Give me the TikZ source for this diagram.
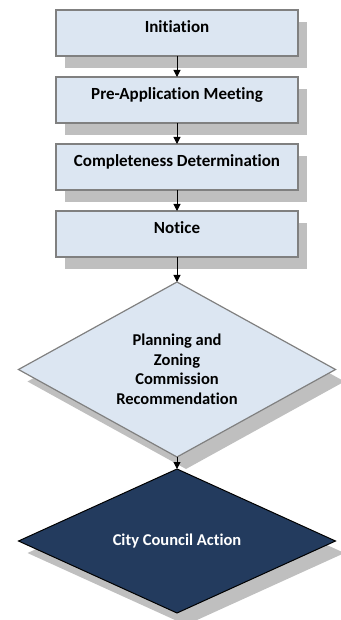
\documentclass[tikz,border=0pt]{standalone}
\usepackage{fontspec}
\setmainfont{Carlito}[Ligatures=NoCommon]
\usetikzlibrary{arrows.meta,positioning,shapes.geometric,shadows}
\definecolor{stagefill}{RGB}{220,230,242}
\definecolor{stageline}{RGB}{128,128,128}
\definecolor{shadegray}{RGB}{191,191,191}
\definecolor{councilblue}{RGB}{35,59,94}
\tikzset{
  stage/.style={rectangle, draw=stageline, line width=1.2pt, fill=stagefill,
                font=\bfseries\fontsize{17}{19.5}\selectfont, text height=12pt, text depth=13pt,
                minimum width=242pt, minimum height=46pt, inner sep=0pt, outer sep=0pt,
                drop shadow={shadow xshift=9pt, shadow yshift=-12pt, fill=shadegray, opacity=1}},
  plandia/.style={diamond, draw=stageline, line width=1.2pt, fill=stagefill, align=center,
                  font=\bfseries\fontsize{16.5}{19.5}\selectfont, shape aspect=1.81,
                  minimum width=317pt, minimum height=175pt, inner sep=0pt, outer sep=0pt,
                  drop shadow={shadow xshift=9pt, shadow yshift=-12pt, fill=shadegray, opacity=1}},
  actdia/.style={diamond, draw=black, line width=1pt, fill=councilblue, text=white, align=center,
                 font=\bfseries\fontsize{16.5}{19.5}\selectfont, shape aspect=2.2,
                 minimum width=317pt, minimum height=144pt, inner sep=0pt, outer sep=0pt,
                 drop shadow={shadow xshift=9pt, shadow yshift=-12pt, fill=shadegray, opacity=1}},
  flowarr/.style={-{Triangle[length=7pt,width=7pt]}, line width=1pt, black},
}
\begin{document}
\begin{tikzpicture}[node distance=21pt]
        \useasboundingbox (0,0) rectangle (340pt,-620pt);
        \node[stage](init) at (177pt,-33pt){Initiation};
        \node[stage, below=of init](preapp){Pre-Application Meeting};
        \node[stage, below=of preapp](complete){Completeness Determination};
        \node[stage, below=of complete](notice){Notice};
        \node[plandia, below=25pt of notice](pzc){Planning and\\Zoning\\Commission\\Recommendation};
        \node[actdia, below=12pt of pzc](council){City Council Action};
        \draw[flowarr](init)--(preapp);\draw[flowarr](preapp)--(complete);\draw[flowarr](complete)--(notice);
        \draw[flowarr](notice)--(pzc);\draw[flowarr](pzc)--(council);
    \end{tikzpicture}
\end{document}
